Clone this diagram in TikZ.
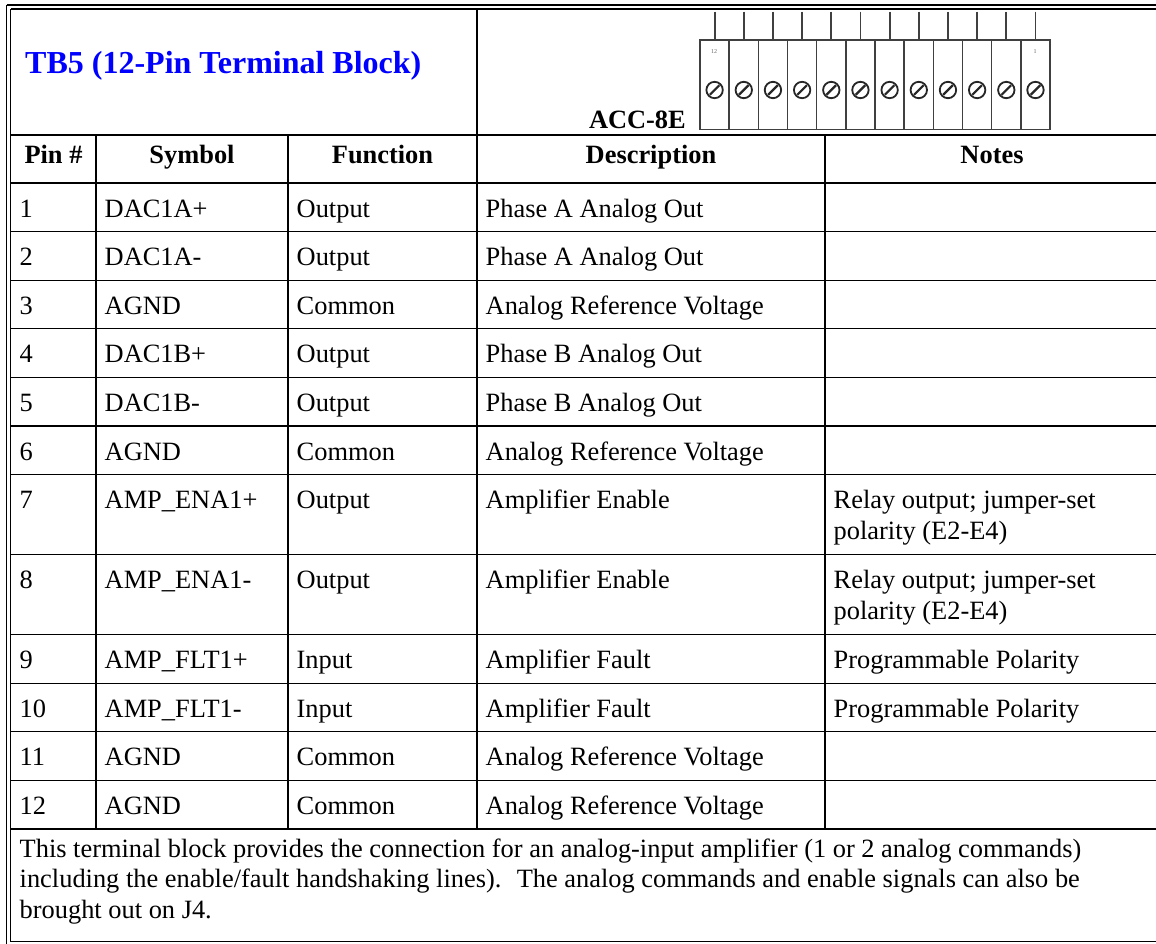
\documentclass[tikz,border=0pt]{standalone}
\usepackage{fontspec}
\setmainfont{Liberation Serif}
\usetikzlibrary{positioning}

\begin{document}
\begin{tikzpicture}[x=1pt, y=-1pt,
    rule/.style={line width=1.3pt},
    txt/.style={anchor=base west, inner sep=0pt, font=\fontsize{26.4}{30.5}\selectfont},
    hdr/.style={anchor=base, inner sep=0pt, font=\fontsize{26.4}{30.5}\selectfont\bfseries},
    slot/.style={draw=black!75, line width=1.5pt, fill=white}]
    \useasboundingbox (0,0) rectangle (1156,943);

    % outer double border
    \draw[line width=1.8pt] (6.7,5.3) -- (1170,5.3);
    \draw[line width=1.5pt] (6.7,5.3) -- (6.7,950);
    \draw[rule] (10.7,9) -- (1170,9);
    \draw[rule] (10.7,9) -- (10.7,941.5) -- (1170,941.5);

    % title + picture row
    \node[anchor=base west, inner sep=0pt, text=blue, font=\fontsize{32}{36}\selectfont\bfseries] (title) at (25,73) {TB5 (12-Pin Terminal Block)};
    \draw[rule] (477,9) -- (477,135);
    \node[anchor=base east, inner sep=0pt, font=\fontsize{26.4}{30}\selectfont\bfseries] (board) at (686,128) {ACC-8E};

    % terminal block
    \foreach \i in {0,...,11} {
        \draw[line width=1.8pt, black!75] (714.6+29.17*\i,11.5) -- (714.6+29.17*\i,40);
        \draw[slot] (700+29.17*\i,40) rectangle (729.17+29.17*\i,129.3);
        \draw[line width=1.8pt, black!85] (714.6+29.17*\i,90) circle (8.2);
        \draw[line width=2.2pt, black!85] (709.8+29.17*\i,94.8) -- (719.4+29.17*\i,85.2);
    }
    \node[inner sep=0pt, font=\fontsize{6}{6}\selectfont, text=black!60] (pin-hi) at (714,52) {12};
    \node[inner sep=0pt, font=\fontsize{6}{6}\selectfont, text=black!60] (pin-lo) at (1035,52) {1};

    % grid
    \draw[rule] (10.7,135) -- (1170,135);
    \draw[rule] (10.7,183) -- (1170,183);
    \foreach \y in {231.6,280.2,328.8,377.4,426,474.6,554.6,634.6,683.2,731.8,780.4,829}
        \draw[rule] (10.7,\y) -- (1170,\y);
    \foreach \x in {96,288,477,825}
        \draw[rule] (\x,135) -- (\x,829);
    \draw[rule] (1159,9) -- (1159,941.5);

    % header
    \node[hdr] (h-pin) at (53.5,163) {Pin \#};
    \node[hdr] (h-sym) at (192,163) {Symbol};
    \node[hdr] (h-fn) at (382.5,163) {Function};
    \node[hdr] (h-desc) at (651,163) {Description};
    \node[hdr] (h-note) at (992,163) {Notes};

    % rows
    \foreach \n/\sym/\fn/\desc/\top in {
        1/DAC1A+/Output/Phase A Analog Out/183,
        2/DAC1A-/Output/Phase A Analog Out/231.6,
        3/AGND/Common/Analog Reference Voltage/280.2,
        4/DAC1B+/Output/Phase B Analog Out/328.8,
        5/DAC1B-/Output/Phase B Analog Out/377.4,
        6/AGND/Common/Analog Reference Voltage/426,
        7/AMP\_ENA1+/Output/Amplifier Enable/474.6,
        8/AMP\_ENA1-/Output/Amplifier Enable/554.6,
        9/AMP\_FLT1+/Input/Amplifier Fault/634.6,
        10/AMP\_FLT1-/Input/Amplifier Fault/683.2,
        11/AGND/Common/Analog Reference Voltage/731.8,
        12/AGND/Common/Analog Reference Voltage/780.4} {
        \node[txt] (pin-\n) at (19.5,\top+34) {\n};
        \node[txt] (sym-\n) at (104.5,\top+34) {\sym};
        \node[txt] (fn-\n) at (296.5,\top+34) {\fn};
        \node[txt] (desc-\n) at (485.5,\top+34) {\desc};
    }
    % multi-line nodes sit on their last baseline
    \node[txt, align=left] (note-7) at (833.5,539.1) {Relay output; jumper-set\\polarity (E2-E4)};
    \node[txt, align=left] (note-8) at (833.5,619.1) {Relay output; jumper-set\\polarity (E2-E4)};
    \node[txt] (note-9) at (833.5,668.6) {Programmable Polarity};
    \node[txt] (note-10) at (833.5,717.2) {Programmable Polarity};

    % footer
    \node[txt, align=left] (remark) at (19.5,918) {This terminal block provides the connection for an analog-input amplifier (1 or 2 analog commands)\\including the enable/fault handshaking lines).~ The analog commands and enable signals can also be\\brought out on J4.};
\end{tikzpicture}
\end{document}
